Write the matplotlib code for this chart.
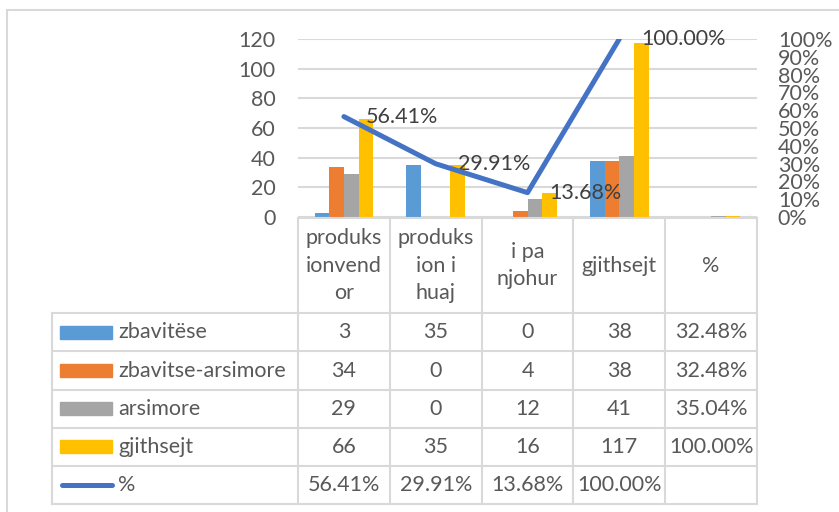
import matplotlib
matplotlib.use("Agg")
import matplotlib.pyplot as plt
from matplotlib.patches import Rectangle
from matplotlib.ticker import PercentFormatter
import numpy as np

categories = ["produks\nionvend\nor", "produks\nion i\nhuaj", "i pa\nnjohur", "gjithsejt", "%"]
series_names = ["zbavitëse", "zbavitse-arsimore", "arsimore", "gjithsejt"]
zbavitese = [3, 35, 0, 38, 0.3248]
zbavitse_arsimore = [34, 0, 4, 38, 0.3248]
arsimore = [29, 0, 12, 41, 0.3504]
gjithsejt = [66, 35, 16, 117, 1.0]
pct = [0.5641, 0.2991, 0.1368, 1.0]
line_name = "%"

colors = ["#5B9BD5", "#ED7D31", "#A5A5A5", "#FFC000"]
line_color = "#4472C4"
txt = "#595959"
grid = "#D9D9D9"

plt.rcParams['font.family'] = ['Lato', 'DejaVu Sans']
FS = 15.5

W, H = 839, 512
fig = plt.figure(figsize=(W / 100, H / 100), dpi=100)

def box(l, t, r, b):
    return [l / W, 1 - b / H, (r - l) / W, (b - t) / H]

# chart border (only top / left visible)
fig.patches.append(Rectangle((7 / W, -0.2), 1.2, 1.2 - 10 / H, transform=fig.transFigure,
                             fill=False, edgecolor=grid, lw=1.5))

# ---- plot area
ax = fig.add_axes(box(298, 39, 757, 217))
ncat = len(categories)
x = np.arange(ncat)
bw = 0.16
all_series = [zbavitese, zbavitse_arsimore, arsimore, gjithsejt]
for k, vals in enumerate(all_series):
    ax.bar(x + (k - 1.5) * bw, vals, width=bw, color=colors[k], zorder=3)
ax.set_xlim(-0.5, ncat - 0.5)
ax.set_ylim(0, 120)
ax.set_yticks(range(0, 121, 20))
ax.set_xticks([])
ax.yaxis.grid(True, color=grid, lw=1.5, zorder=0)
for s in ax.spines.values():
    s.set_visible(False)
ax.tick_params(axis='y', length=0, pad=16, labelsize=FS, labelcolor=txt)

ax2 = ax.twinx()
ax2.plot(x[:len(pct)], pct, color=line_color, lw=3.6, solid_capstyle='round',
         solid_joinstyle='round', zorder=4)
for i, v in enumerate(pct):
    ax2.annotate(f"{v * 100:.2f}%", (i, v), xytext=(22, 0), textcoords='offset pixels',
                 ha='left', va='center', fontsize=FS, color="#404040",
                 annotation_clip=False)
ax2.set_ylim(0, 1)
ax2.set_yticks(np.linspace(0, 1, 11))
ax2.yaxis.set_major_formatter(PercentFormatter(1.0, decimals=0))
for s in ax2.spines.values():
    s.set_visible(False)
ax2.tick_params(axis='y', length=0, pad=15, labelsize=FS, labelcolor=txt)

# ---- data table
tl, tr, tt, tb = 52, 757, 218, 504
unit = (757 - 298) / ncat
left_x = -0.5 - (298 - tl) / unit
axt = fig.add_axes(box(tl, tt, tr, tb))
head_h = 2.5
nrows = len(all_series) + 1
axt.set_xlim(left_x, ncat - 0.5)
axt.set_ylim(head_h + nrows, 0)
axt.axis('off')

lkw = dict(color=grid, lw=1.5, clip_on=False, solid_capstyle='projecting')
axt.plot([-0.5, ncat - 0.5], [0, 0], **lkw)
for r in range(nrows + 1):
    axt.plot([left_x, ncat - 0.5], [head_h + r] * 2, **lkw)
for c in range(ncat + 1):
    axt.plot([c - 0.5] * 2, [0, head_h + nrows], **lkw)
axt.plot([left_x] * 2, [head_h, head_h + nrows], **lkw)

for i, cat in enumerate(categories):
    axt.text(i, head_h / 2, cat, ha='center', va='center', fontsize=FS,
             color=txt, linespacing=1.45)

row_labels = series_names + [line_name]
rows = [list(s) for s in all_series] + [pct + [None]]
key_l = left_x + 8 / unit
key_w = 52 / unit
for r, (name, vals) in enumerate(zip(row_labels, rows)):
    yc = head_h + r + 0.5
    if r < len(all_series):
        axt.add_patch(Rectangle((key_l, yc - 0.17), key_w, 0.34, color=colors[r],
                                clip_on=False))
    else:
        axt.plot([key_l + 0.02, key_l + key_w], [yc, yc], color=line_color, lw=3.6,
                 solid_capstyle='round', clip_on=False)
    axt.text(left_x + 66 / unit, yc, name, ha='left', va='center', fontsize=FS, color=txt)
    for i, v in enumerate(vals):
        if v is None:
            continue
        if r == len(all_series) or i == ncat - 1:
            s = f"{v * 100:.2f}%"
        else:
            s = f"{v:g}"
        axt.text(i, yc, s, ha='center', va='center', fontsize=FS, color=txt)

fig.savefig("out.png", dpi=100)
